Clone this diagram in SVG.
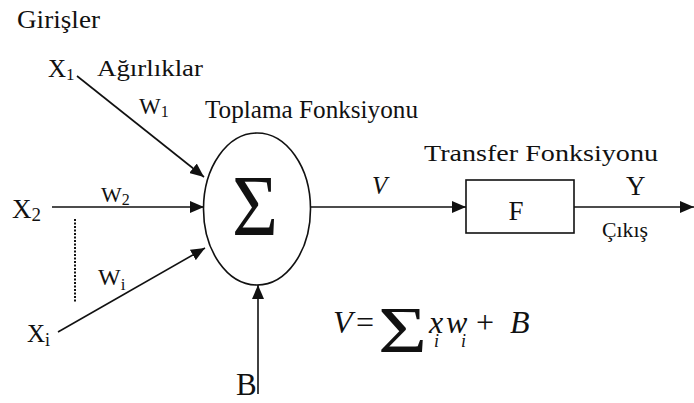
<svg xmlns="http://www.w3.org/2000/svg" width="694" height="403" viewBox="0 0 694 403">
<style>
text{fill:#111}
.c{stroke:#111;stroke-width:1.6;fill:none}
</style>
<defs>
<marker id="ah" markerUnits="userSpaceOnUse" markerWidth="16" markerHeight="12" refX="14" refY="6" orient="auto">
<path d="M0,0 L14,6 L0,12 Z" fill="#111"/>
</marker>
</defs>
<rect width="694" height="403" fill="#fff"/>
<g font-family="'Liberation Serif', 'Times New Roman', Times, serif">
<g id="labels">
<text x="17" y="28" font-size="25" textLength="83" lengthAdjust="spacingAndGlyphs">Girişler</text>
<text x="97" y="76" font-size="23" textLength="106" lengthAdjust="spacingAndGlyphs">Ağırlıklar</text>
</g>
<g id="connectors">
<line class="c" x1="77" y1="76" x2="204" y2="177" marker-end="url(#ah)"/>
<line class="c" x1="52" y1="207" x2="204" y2="207" marker-end="url(#ah)"/>
<line class="c" x1="58" y1="332" x2="205" y2="248" marker-end="url(#ah)"/>
<line class="c" x1="258" y1="394" x2="258" y2="285" marker-end="url(#ah)"/>
<line class="c" x1="310" y1="207" x2="466" y2="207" marker-end="url(#ah)"/>
<line class="c" x1="574" y1="207" x2="694" y2="207" marker-end="url(#ah)"/>
<line x1="75" y1="219" x2="75" y2="303" stroke="#111" stroke-width="2" stroke-dasharray="2,1.5"/>
</g>
<g id="input-x1">
<text x="48" y="77" font-size="25">X<tspan font-size="17" dy="3">1</tspan></text>
<text x="139" y="114" font-size="23">W<tspan font-size="16" dy="3">1</tspan></text>
</g>
<g id="input-x2">
<text x="12" y="218" font-size="27">X<tspan font-size="19" dy="3">2</tspan></text>
<text x="101" y="202" font-size="22">W<tspan font-size="16" dy="3">2</tspan></text>
</g>
<g id="input-xi">
<text x="27" y="342" font-size="25">X<tspan font-size="18" dy="4">i</tspan></text>
<text x="98" y="285" font-size="24">W<tspan font-size="17" dy="5">i</tspan></text>
</g>
<g id="bias">
<text x="236" y="395" font-size="31">B</text>
</g>
<g id="sum-node">
<ellipse cx="257" cy="209" rx="53.5" ry="76" class="c"/>
<text x="232" y="235" font-size="86" textLength="46" lengthAdjust="spacingAndGlyphs">Σ</text>
<text x="205" y="118" font-size="25" textLength="213" lengthAdjust="spacingAndGlyphs">Toplama Fonksiyonu</text>
</g>
<g id="v-label">
<text x="372" y="194" font-size="25" font-style="italic">V</text>
</g>
<g id="transfer-node">
<rect x="466" y="180" width="108" height="53" class="c"/>
<text x="516" y="220" font-size="27" text-anchor="middle">F</text>
<text x="424" y="161" font-size="24" textLength="234" lengthAdjust="spacingAndGlyphs">Transfer Fonksiyonu</text>
</g>
<g id="output">
<text x="626" y="195" font-size="27">Y</text>
<text x="602" y="237" font-size="21" textLength="46" lengthAdjust="spacingAndGlyphs">Çıkış</text>
</g>
<g id="formula">
<text x="333" y="333" font-size="32" font-style="italic">V</text>
<text x="356" y="333" font-size="32">=</text>
<text x="378" y="352" font-size="66" textLength="49" lengthAdjust="spacingAndGlyphs">Σ</text>
<text x="429" y="333" font-size="32" font-style="italic">x</text>
<text x="434" y="347" font-size="18" font-style="italic">i</text>
<text x="446" y="333" font-size="32" font-style="italic">w</text>
<text x="461" y="347" font-size="18" font-style="italic">i</text>
<text x="476" y="333" font-size="32">+</text>
<text x="510" y="333" font-size="32" font-style="italic">B</text>
</g>
</g>
</svg>
